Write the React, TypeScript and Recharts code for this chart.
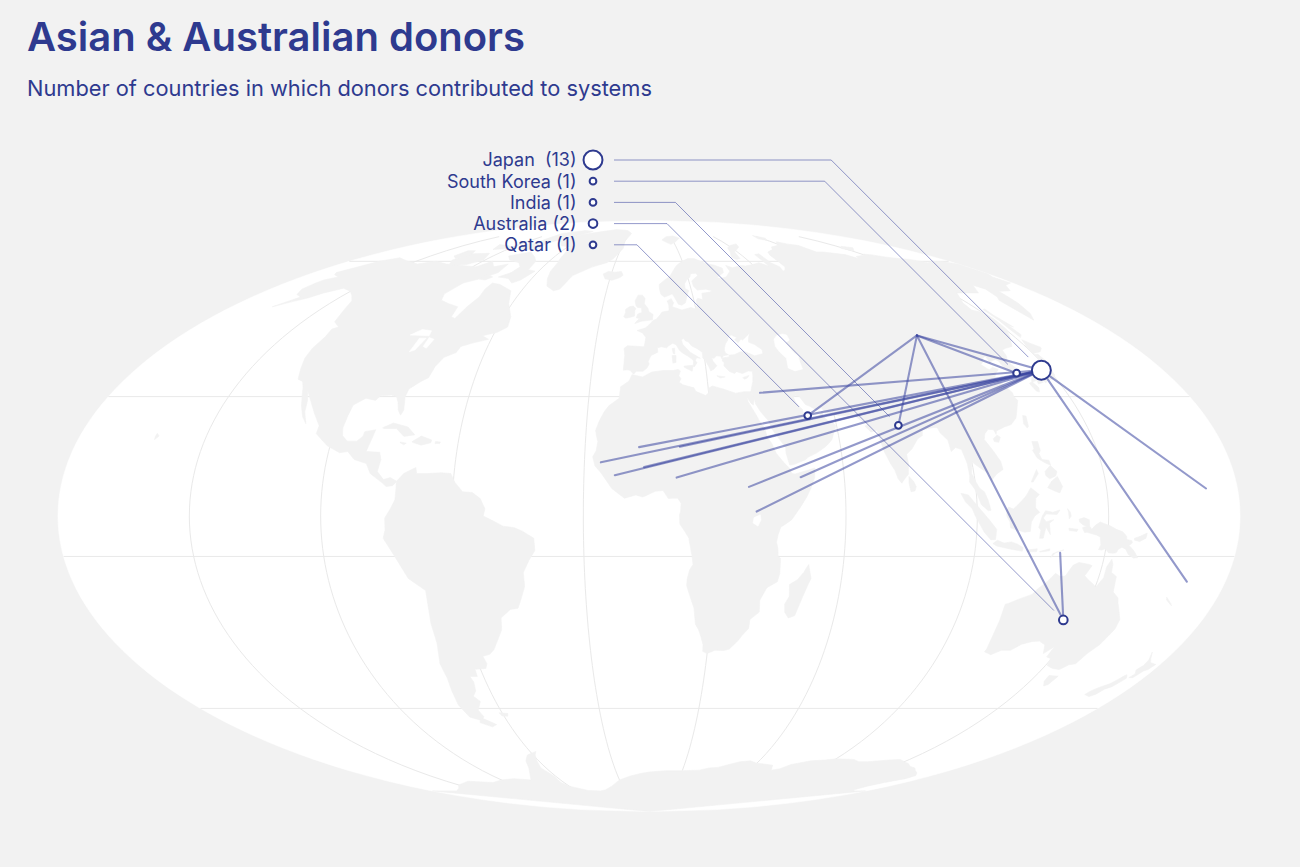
import { Scatter, ScatterChart, XAxis, YAxis } from 'recharts'

type LonLat = [number, number]

// donors, legend order
const DONORS = ['Japan', 'South Korea', 'India', 'Australia', 'Qatar']
const DONOR_LABELS = ['Japan  (13)', 'South Korea (1)', 'India (1)', 'Australia (2)', 'Qatar (1)']
const DONOR_COUNTS = [13, 1, 1, 2, 1]
const DONOR_LON = [137.4, 127.9, 79.8, 134.8, 51.4]
const DONOR_LAT = [37.0, 36.2, 22.6, -26.0, 25.1]

// countries that received contributions
const RECIPIENTS = ['Mongolia', 'Jordan', 'Mali', 'Senegal', 'Guinea', 'Burkina Faso', 'Niger', 'Nigeria', 'South Sudan', 'Uganda', 'Somalia', 'Marshall Islands', 'Vanuatu', 'Timor-Leste']
const RECIPIENT_LON = [103.1, 37.2, -3.1, -14.9, -10.5, -1.5, 9.7, 8.5, 30.6, 32.8, 46.6, 170.4, 168.0, 126.2]
const RECIPIENT_LAT = [46.6, 31.0, 17.1, 13.3, 10.1, 12.1, 17.2, 9.5, 7.2, 1.1, 9.6, 6.8, -16.3, -9.1]

const FLOW_FROM = ['Japan', 'Japan', 'Japan', 'Japan', 'Japan', 'Japan', 'Japan', 'Japan', 'Japan', 'Japan', 'Japan', 'Japan', 'Japan', 'South Korea', 'India', 'Australia', 'Australia', 'Qatar']
const FLOW_TO = ['Mongolia', 'Jordan', 'Mali', 'Senegal', 'Guinea', 'Burkina Faso', 'Niger', 'Nigeria', 'South Sudan', 'Uganda', 'Somalia', 'Marshall Islands', 'Vanuatu', 'Mongolia', 'Mongolia', 'Mongolia', 'Timor-Leste', 'Mongolia']

// graticule (40 degree steps)
const PARALLELS = [-50, -10, 30, 70]
const MERIDIANS = [-140, -100, -60, -20, 20, 60, 100, 140]

// rough coastlines [lon, lat]
const NORTH_AMERICA: LonLat[] = [[-168,66],[-162,70],[-156,71.3],[-145,70],[-135,69],[-128,70],[-118,69],[-108,68.5],[-98,68],[-94,70],[-88,68],[-82,69],[-81,66],[-86,64],[-92,62.5],[-94.5,59],[-92.5,57],[-88,56],[-82.5,55],[-81.5,52],[-79.5,51.5],[-78.5,55],[-77,58],[-78,60.5],[-77.5,62.5],[-73,62],[-69,61],[-65,60],[-61.5,56],[-57,52],[-56,49],[-59,47.5],[-64,46.5],[-61,45.5],[-66,44.5],[-70,43.5],[-70.5,41.8],[-74,40.5],[-75.5,38],[-76,35],[-78,34],[-81,32],[-81.2,30],[-80,26.5],[-80.5,25.2],[-81.8,26.5],[-82.8,28.5],[-84,30],[-86,30.4],[-89.5,30.2],[-90.5,29],[-94,29.6],[-97.2,27.8],[-97.5,25],[-97.7,22],[-97,20],[-95,18.6],[-92,18.6],[-90.5,19.8],[-90.3,21],[-87,21.5],[-87.5,19],[-88.3,16],[-84,15.8],[-83.2,14],[-83.7,11],[-81.5,9],[-79.5,9.5],[-77.4,8.6],[-78.5,7.5],[-80.5,7.3],[-81.8,8.2],[-85.8,10.5],[-87.5,13],[-91.5,14],[-94,16],[-96.5,15.7],[-101,17.5],[-105.5,20.5],[-105.5,22.5],[-108.5,25.5],[-112.5,29.5],[-114.7,31.5],[-113,29],[-112,26],[-110,23],[-112,24.8],[-114,27.5],[-115.5,30],[-117.1,32.5],[-118.5,34],[-120.6,34.6],[-122.4,37.5],[-124,40.3],[-124.5,43],[-124,46.2],[-124.7,48.4],[-123,49],[-127,50.5],[-130,54.5],[-132,56.8],[-136,58.5],[-140,59.8],[-146,60.8],[-151,59.3],[-154,57.7],[-158,56.5],[-162.5,55],[-158,58],[-162,58.8],[-165,60.5],[-165,62.5],[-164.5,63.5],[-161,64.5],[-166,65.3]]
const GREENLAND: LonLat[] = [[-73,78],[-66,81],[-55,82.2],[-40,83.5],[-25,83],[-18,81.5],[-20,78],[-18.5,75],[-22,71],[-25,69.5],[-32,68],[-40,65],[-42.5,60.5],[-45,60],[-49.5,61.5],[-52,64],[-53.5,66.5],[-54,69.5],[-55,71],[-58,75.5],[-66,76]]
const BAFFIN: LonLat[] = [[-80,73.5],[-72,71.5],[-68,70],[-66.5,67],[-62,66.5],[-65,63.5],[-68,62.5],[-72,64],[-78,64.5],[-74,66],[-73,68],[-77,69.5],[-85,70.5],[-90,72]]
const VICTORIA_IS: LonLat[] = [[-117,72.8],[-106,73],[-101,70.5],[-106,68.8],[-115,68.5],[-120,70.5]]
const ELLESMERE: LonLat[] = [[-90,81.5],[-75,83],[-63,82.5],[-70,80],[-78,78],[-82,76.5],[-90,76.5],[-90,79]]
const BANKS_IS: LonLat[] = [[-125,74],[-120,74],[-115,72],[-120,71],[-125,72]]
const DEVON_IS: LonLat[] = [[-95,77],[-80,76.5],[-80,74.5],[-92,74.5]]
const PARRY_IS: LonLat[] = [[-115,76.5],[-105,76],[-100,75],[-110,74.5]]
const SOUTHAMPTON: LonLat[] = [[-86,65.5],[-81,64.5],[-83,63.5],[-86.5,63.8]]
const CUBA: LonLat[] = [[-85,22],[-82,23.2],[-77,22.2],[-74.2,20.2],[-77.5,19.8],[-80.5,21.8],[-84.5,21.8]]
const HISPANIOLA: LonLat[] = [[-74.5,18.5],[-72,19.9],[-68.5,18.9],[-68.6,18.2],[-71.5,17.6],[-74.4,18.3]]
const JAMAICA: LonLat[] = [[-78.3,18.4],[-76.3,18.1],[-77,17.7],[-78.2,18.2]]
const PUERTO_RICO: LonLat[] = [[-67.2,18.5],[-65.6,18.4],[-65.8,18],[-67.2,18]]
const HAWAII: LonLat[] = [[-156,20.6],[-155,19.9],[-155.9,19],[-156.1,19.7]]
const SOUTH_AMERICA: LonLat[] = [[-77.5,8.5],[-75.5,10.5],[-72,12],[-71.5,10.5],[-68,10.5],[-64,10.7],[-61,10.5],[-59.5,8.3],[-57,6],[-54,5.8],[-51.5,4.3],[-50,1.8],[-50.5,0],[-48,-1],[-44.5,-2.5],[-41,-2.9],[-38.5,-3.8],[-35.2,-5.5],[-35,-8.5],[-37,-11],[-39,-14],[-39,-17.5],[-40.5,-20.5],[-42,-23],[-44.5,-23.3],[-48,-25.5],[-48.6,-28.5],[-51,-31.5],[-53,-33.8],[-54.9,-35],[-57.5,-35.5],[-57,-37.5],[-58,-38.8],[-62,-39],[-62.3,-41],[-65,-41],[-64.5,-42.5],[-65.5,-45],[-67.5,-46.5],[-66,-48],[-69,-50.5],[-68.5,-52.5],[-71,-53.5],[-74.5,-52.5],[-75.5,-49],[-74.5,-45],[-73.5,-41.5],[-73.5,-37.5],[-71.5,-32],[-71.3,-27],[-70.3,-18.5],[-75,-15.5],[-78.5,-9.5],[-81.2,-5.5],[-80.5,-3.5],[-80.5,-0.5],[-79,1.5],[-77.5,4],[-77.4,6.7]]
const TIERRA_DEL_FUEGO: LonLat[] = [[-70,-52.7],[-65.5,-54.8],[-68,-55.5],[-72,-54.2]]
const FALKLANDS: LonLat[] = [[-61.2,-51.3],[-57.8,-51.5],[-58.5,-52.3],[-60.8,-52.2]]
const EURASIA: LonLat[] = [[-9,37],[-8.8,41],[-9.2,43],[-8,43.7],[-1.8,43.4],[-1.2,46],[-2.5,47.3],[-4.7,48],[-1.5,48.7],[0,49.6],[1.6,50.9],[3,51.3],[4.5,52.5],[5.5,53.4],[8.5,53.8],[8.6,55.5],[8.1,56.8],[10,57.5],[10.8,56.2],[10,55],[12.5,54.4],[14,54],[18,54.8],[19.5,54.4],[21,55.5],[21,57],[22,57.6],[24,57.2],[24.5,59.2],[28,59.5],[29.8,60],[27,60.5],[22.8,60.2],[21.5,61.5],[21.5,63.2],[25.5,65],[25,65.8],[22,65.6],[21.2,64.5],[19,63.5],[17.5,62.2],[17.2,60.7],[18.8,60],[17.8,59],[16.5,57],[16,56.2],[14.3,55.5],[12.8,55.8],[11.5,58],[10.7,59],[9,58.5],[7,58],[5.5,58.8],[5,60.5],[5,62],[8,63.5],[11,64.8],[13,66.5],[15,68],[17,69],[20,70],[24,71],[28,71],[31,70],[33,69.3],[38,68.5],[41,67.5],[40,66],[37,65],[35,64.3],[36.5,64],[40,64.5],[44,66.5],[44,68.5],[47,67.7],[53,68.5],[55,68.3],[60,68.8],[65,69.5],[68.5,68.2],[69,72.5],[72.5,72.8],[72,69.5],[74,68],[73,66.5],[75,67],[77,68],[78.5,72.4],[80.5,73.5],[87,74.5],[90,75.5],[98,76.2],[104,77.7],[108,76.7],[113,76.2],[113.5,73.5],[118,73.5],[123,73],[128,72.5],[130,71],[132,71.8],[139,72.3],[141,72.7],[145,72.4],[150,71.5],[155,71],[160,70.7],[165,69.5],[170,70],[176,69.8],[180,69],[180,65.5],[178,64.5],[179,62.5],[174,61.8],[170,60],[164,59.8],[163,58],[162,56],[159.5,53],[156.5,51],[156,57],[158,58],[160,60.5],[158,61.8],[153,59.3],[148,59.3],[143,59.3],[138,56.2],[137,54],[140.5,53.2],[141,51.5],[140.5,48.5],[138,46],[135,43.5],[132,43],[130,42.5],[129.5,40.8],[128,39.5],[129.4,37],[129.3,35.5],[126.5,34.5],[126.3,36.8],[125,37.7],[125,39.5],[124.3,39.9],[122.3,39.4],[121.2,38.8],[121.6,39.5],[121.8,40.8],[120.5,40.4],[119,39.2],[117.7,38.5],[118.8,37.4],[119.4,37.1],[121,37.8],[122.5,37.2],[120.5,36.1],[119.2,35],[120.9,32.5],[121.8,31],[121.5,30.1],[122,29],[120,26.5],[118.5,24.5],[116,22.8],[113.5,22.2],[110.5,21.2],[110,20.3],[109.7,21.5],[108,21.6],[106.5,20.5],[105.7,19],[107.3,16.5],[109,13.5],[109.2,11.5],[107,10.4],[105,8.7],[104.8,10.3],[103,11.4],[101,12.7],[100,13.5],[99.3,10.5],[100.3,8.3],[101.2,6.8],[102.5,6],[103.4,4],[104.2,1.4],[103.4,1.3],[101.3,2.8],[100.4,5],[99.6,6.7],[98.3,8.4],[98.6,10],[98.5,13],[97.7,16.5],[96,17],[94.3,16],[94.2,18.8],[92.4,20.7],[92,22],[90.6,22],[88.9,21.8],[87,21.4],[86.5,20],[84.8,19.2],[82.2,16.6],[80.2,15.3],[80.3,13],[79.8,10.3],[78.2,8.9],[77.5,8.1],[76.5,9.2],[75.8,11.3],[74.8,12.9],[73.4,16],[72.8,19.2],[72.6,21.3],[70.5,20.9],[69,22.4],[70.2,22.9],[68.5,23.7],[67.2,24.6],[66.5,25.4],[64.5,25.2],[61.5,25.1],[58.5,25.6],[57.3,25.8],[56.4,27.1],[54.7,26.5],[52.5,27.6],[51.5,27.9],[50,30.1],[48.8,30.3],[48,29.9],[48.4,28.5],[49.3,27.4],[50.1,26.7],[50.2,25.5],[50.8,24.8],[51.3,26.1],[51.6,25],[52,23.9],[54,24.1],[55.5,25.4],[56.4,26.3],[56.3,24.9],[57.4,23.9],[58.8,23.5],[59.8,22.5],[58.5,20.5],[57.7,19],[56.3,17.9],[55.3,17.2],[52.2,15.6],[49.5,14.6],[48.7,14],[45,12.8],[43.5,12.6],[42.7,15.7],[42.8,17],[41.2,19],[40,20.5],[39.1,21.9],[38.5,23.7],[37.2,25.1],[36.4,26],[35.1,28.1],[34.95,29.4],[34.2,31.3],[34.9,32.8],[35.5,33.9],[35.9,35.4],[36.1,36.7],[34.7,36.8],[32.5,36.1],[30.6,36.6],[29.7,36.1],[28,36.7],[26.5,38.2],[26.8,39.1],[26.2,39.5],[26.5,40.3],[29,40.6],[29.1,41.1],[31,41.2],[33.5,42],[35.2,42],[38.3,40.9],[41.5,41.5],[41.7,42.6],[39.5,44],[37.5,44.7],[38.2,46.3],[39.1,47.3],[35.5,45.3],[35,45.6],[33.5,44.5],[32.5,45.4],[33.6,46],[31.7,46.7],[30.7,46.5],[30,45.5],[29.6,45],[28.7,44.3],[28,43.2],[27.7,42.3],[28,41.6],[28.9,41.2],[27,40.95],[26.2,40.1],[26,40.8],[24.5,40.9],[23.4,40.2],[22.6,40.3],[22.9,39.4],[24,38.2],[22.8,37.3],[21.6,36.8],[21.1,38],[20.2,39.6],[19.4,40.3],[19.5,41.8],[18.5,42.5],[17.5,43],[15.9,43.6],[14.9,44.7],[13.7,45.1],[13.1,45.7],[12.3,45.4],[12.6,44.1],[13.9,42.9],[15.1,41.9],[16.1,41.4],[18.5,40.2],[17.2,40.4],[16.6,39.6],[17.1,39],[16.1,38],[15.6,38],[15.8,38.8],[16,39.5],[15.4,40],[14.1,40.8],[12.4,41.6],[11.2,42.4],[10.2,43.9],[8.9,44.4],[7.4,43.7],[6.5,43.1],[4.6,43.4],[3.1,43.1],[3.2,41.9],[0.8,41],[0.1,40],[-0.3,39.3],[0.1,38.7],[-0.7,37.6],[-2.1,36.7],[-4.4,36.7],[-5.4,35.9],[-6.5,36.9],[-7.5,37.1]]
const AFRICA: LonLat[] = [[34.2,31.3],[34.9,29.5],[34.3,27.8],[33.6,28.3],[32.6,29.9],[32.7,28.8],[33.6,27.2],[34.6,25.5],[35.6,23.6],[36.9,22],[37.4,19.5],[38.6,18],[39.7,15.5],[41.7,13.3],[43.3,11.9],[44,10.5],[45,10.4],[48.9,11.3],[51.2,11.9],[51,10.4],[50.9,9.5],[49.5,6.8],[48,4.5],[46,2],[43.5,-0.9],[41.8,-1.9],[40.2,-2.7],[39.4,-4.6],[39,-6.5],[39.5,-8],[39.7,-10],[40.5,-10.5],[40.6,-14.2],[40.1,-16.3],[37,-17.8],[35.2,-21],[35.5,-24],[32.8,-25.9],[32.8,-28.2],[31,-30],[30,-31.3],[27.4,-33.6],[25.5,-34],[22.5,-33.9],[20,-34.8],[18.4,-34.2],[18.3,-32.5],[17.3,-30.3],[16.4,-28.6],[15.2,-27.1],[14.4,-22.9],[13.4,-20.9],[11.8,-17.3],[11.9,-15.6],[12.6,-13.3],[13.6,-12],[13.2,-9.8],[12.3,-6.1],[12.2,-5.5],[11,-3.9],[9.4,-2],[9.3,0.3],[9.6,1],[9.8,3.1],[8.8,4.4],[7.2,4.4],[5.9,4.3],[4.3,6.3],[1.9,6.1],[-1,5],[-2,4.7],[-4,5.2],[-7.5,4.4],[-9.3,5.5],[-11.4,6.8],[-13.2,8.9],[-15,10.9],[-16.7,12.4],[-17.5,14.7],[-16.5,16.2],[-16.1,18.5],[-16.5,19.6],[-17,21.3],[-16,23.7],[-14.5,26.2],[-13.2,27.6],[-9.9,29.6],[-9.6,32.6],[-6.8,34.1],[-5.9,35.8],[-2.2,35.2],[1,36.5],[4.8,36.9],[8.4,36.9],[10.2,37.2],[11,36.8],[10.3,35.5],[11,34.7],[10.3,33.8],[11.5,33.1],[15.2,32.3],[15.7,31.4],[18.9,30.3],[20,31],[20,32.1],[21.5,32.8],[25,32],[29,30.9],[32,31.3]]
const MADAGASCAR: LonLat[] = [[49.3,-12],[50.5,-15.5],[49.8,-17],[48.5,-20.5],[47.1,-24.9],[45.2,-25.5],[43.7,-24],[43.3,-22],[44.4,-20],[44,-17],[46.3,-15.8],[48,-14]]
const GREAT_BRITAIN: LonLat[] = [[-5.7,50],[-3,50.7],[1.4,51.1],[1.7,52.7],[0,53.5],[-0.4,54.5],[-2,55.9],[-1.8,57.6],[-3,58.6],[-5,58.6],[-6.2,56.8],[-5.6,55.3],[-4.9,54.8],[-3.2,54.7],[-3,53.3],[-4.7,52.8],[-5.2,51.7],[-3.6,51.4],[-4.5,51.1]]
const IRELAND: LonLat[] = [[-6,52.2],[-6,53.9],[-5.6,54.5],[-6.8,55.2],[-8.5,55],[-10,54.2],[-9.8,53.3],[-10.4,52],[-9.5,51.6],[-8,51.8]]
const ICELAND: LonLat[] = [[-22.5,63.9],[-24.3,65.5],[-22,66.4],[-18.5,66.1],[-15,66.4],[-13.6,65.1],[-15,64.3],[-18.7,63.4]]
const SVALBARD: LonLat[] = [[11,78.5],[16,80],[23,80.3],[27,79.3],[22,77.8],[17,76.6],[14,77.5]]
const NOVAYA_ZEMLYA: LonLat[] = [[52,71.5],[55,73.5],[57,75.2],[62,76.2],[68,76.8],[66,75.5],[58,73.5],[56.5,71],[53.5,70.7]]
const SEVERNAYA_ZEMLYA: LonLat[] = [[96,79],[100,80.5],[104,79.3],[100,78.3]]
const NEW_SIBERIAN_IS: LonLat[] = [[138,75],[143,75.8],[148,75.2],[141,73.9]]
const SICILY: LonLat[] = [[12.4,38.1],[15.6,38.3],[15.1,36.7],[12.4,37.8]]
const SARDINIA: LonLat[] = [[8.4,41],[9.8,41],[9.6,39.1],[8.5,38.9]]
const CORSICA: LonLat[] = [[8.6,42.9],[9.5,43],[9.4,41.4],[8.8,41.6]]
const CRETE: LonLat[] = [[23.5,35.5],[26.3,35.2],[24.5,34.9]]
const CYPRUS: LonLat[] = [[32.3,35],[34.6,35.6],[33.9,34.9],[32.9,34.6]]
const SRI_LANKA: LonLat[] = [[79.9,9.8],[81.2,8.5],[81.8,7.2],[81.3,6.2],[80.1,6],[79.7,8]]
const HONSHU: LonLat[] = [[130.9,34],[132.5,35.5],[135,35.7],[136,36.3],[137,37],[138.5,37.8],[139.8,38.8],[140,40.5],[140.3,41.3],[141.5,41.3],[142,39.6],[141,38.3],[140.9,36.8],[140.6,35.7],[139.8,35.1],[138.8,34.6],[137,34.6],[135.4,33.6],[135,34.5],[133,34.3],[131.2,33.9]]
const KYUSHU: LonLat[] = [[129.7,33.5],[131,33.9],[131.8,32.3],[131,31.2],[130.2,31.5],[129.8,32.8]]
const SHIKOKU: LonLat[] = [[132.6,33.3],[134.7,33.8],[134.3,34.3],[132.9,34.1]]
const HOKKAIDO: LonLat[] = [[140,41.5],[140.2,43.2],[141.5,45.4],[143,44.4],[145.3,43.3],[145,42.9],[143.3,42],[141,41.7]]
const SAKHALIN: LonLat[] = [[142,46],[143.5,46.8],[143.2,49.5],[144.4,49],[143,52.5],[143.2,54.3],[142.2,54.2],[142.2,51],[141.8,48.5]]
const TAIWAN: LonLat[] = [[120.1,23],[121,25.1],[122,25],[121.3,22.4],[120.7,21.9]]
const HAINAN: LonLat[] = [[108.6,19.2],[110.2,20.1],[111,19.6],[110,18.3],[108.7,18.5]]
const LUZON: LonLat[] = [[120.5,18.5],[122.3,18.5],[122.2,16.2],[121.5,15.5],[121.9,14],[124,13.8],[124.2,12.6],[123,13],[121.5,13.8],[120.6,14.4],[119.8,16.3],[120.4,16.7]]
const VISAYAS: LonLat[] = [[122,11],[124,12.5],[125.7,11],[125,9.9],[123,9.2],[122,10]]
const MINDANAO: LonLat[] = [[122,7],[123.5,8.6],[125.5,9.8],[126.6,7.3],[125.5,5.7],[124,6.2]]
const PALAWAN: LonLat[] = [[117.2,8.4],[119.5,11.5],[119.8,10.5],[117.8,8.4]]
const BORNEO: LonLat[] = [[109,1.5],[109.6,2.2],[111,1.7],[113,3.2],[114.6,4.5],[115.5,5.4],[116.8,7],[119.2,5.3],[118,4.4],[117.8,2],[119,0.9],[117.5,0],[116.5,-1.5],[116.3,-3.8],[114.6,-4],[111.8,-3.4],[110.2,-2.9],[110,-1.5],[109,0]]
const SUMATRA: LonLat[] = [[95.3,5.6],[97.5,5.2],[100.3,2.3],[103.7,-1],[106,-3.3],[105.9,-5.8],[104.5,-5.9],[102.3,-4],[100.8,-2],[99.3,0.2],[98.5,1.8],[96.5,3.5]]
const JAVA: LonLat[] = [[105.2,-6.8],[106.5,-6],[108.6,-6.7],[110.8,-6.4],[112.6,-6.9],[114.6,-7.8],[114.5,-8.7],[111,-8.2],[108.5,-7.8],[106.4,-7.4]]
const SULAWESI: LonLat[] = [[119.3,-5.5],[119.5,-3.5],[118.8,-2.8],[119.8,0],[120.8,1.3],[123,0.9],[125.2,1.5],[124.3,0.4],[121,0.5],[120.1,-0.5],[121,-1.4],[123.3,-0.9],[122,-1.8],[122.5,-4.6],[121,-2.7],[120.4,-5.5]]
const LOMBOK_SUMBAWA: LonLat[] = [[115.9,-8.4],[119,-8.1],[118.9,-8.8],[116,-8.9]]
const FLORES: LonLat[] = [[119.8,-8.8],[122.8,-8.1],[122.9,-8.6],[120,-8.9]]
const TIMOR: LonLat[] = [[124,-9.3],[127.2,-8.4],[125,-8.9],[123.6,-10.3]]
const SERAM: LonLat[] = [[128,-3],[130.8,-3.3],[130.5,-3.8],[128.2,-3.6]]
const HALMAHERA: LonLat[] = [[127.5,1.8],[128.3,1],[128.6,0],[128,-0.7],[127.8,1]]
const NEW_GUINEA: LonLat[] = [[131,-0.8],[132.5,-0.4],[134.1,-0.9],[134.3,-2.5],[135,-3.3],[136,-2.3],[137.5,-1.5],[138.8,-1.9],[140.5,-2.4],[142.5,-3.3],[144.5,-3.9],[145.8,-5],[146,-5.8],[147.6,-6.1],[147.8,-6.7],[146.9,-7.3],[148.1,-8.1],[149.2,-9.1],[150.3,-10.3],[149,-10.4],[147.2,-9.5],[146.1,-8.2],[144.8,-7.7],[143.8,-8.3],[143.4,-9.1],[142.4,-9.2],[141,-9.1],[139.9,-8.1],[138.7,-8.4],[137.8,-8.3],[138.3,-7.2],[137.8,-5.2],[136.6,-4.7],[135.2,-4.4],[133.6,-4],[132.9,-4.1],[132.1,-2.9],[133.4,-2.5],[132.3,-2.2],[131.2,-1.5]]
const NEW_BRITAIN: LonLat[] = [[148.3,-5.5],[150,-5],[152,-4.2],[151.8,-5.5],[150,-6.3],[148.4,-6]]
const NEW_CALEDONIA: LonLat[] = [[164,-20.2],[166.5,-21.9],[167,-22.4],[164.4,-20.9]]
const AUSTRALIA: LonLat[] = [[113.7,-22],[114.2,-26.3],[115.2,-33.6],[115,-34.3],[117.9,-35.1],[120.5,-33.9],[123.6,-33.9],[126,-32.3],[129,-31.6],[131.3,-31.5],[134,-32.5],[135.7,-34.8],[137.7,-33],[137.8,-35.7],[139.6,-36.1],[140.6,-38],[143.5,-38.8],[146.3,-39.1],[148,-37.8],[150,-37.5],[150.8,-34.8],[152.5,-32.4],[153.6,-28.4],[153.1,-25.9],[151,-23.5],[149.4,-21.6],[148.7,-20.4],[146.3,-18.9],[145.4,-15],[143.5,-14],[143.2,-11.9],[142.5,-10.7],[141.5,-12.6],[141.6,-15.3],[140.2,-17.7],[139,-16.9],[137,-15.8],[135.5,-14.8],[136.9,-12.3],[136,-12],[132.6,-11.5],[131,-12.2],[129.5,-14.9],[128,-15],[126.2,-14.2],[124.4,-16.3],[122.2,-18.1],[121,-19.5],[117.4,-20.7],[114.6,-21.8]]
const TASMANIA: LonLat[] = [[144.7,-40.7],[148.3,-40.9],[148,-43.2],[146.9,-43.6],[145.2,-42.3]]
const NZ_NORTH: LonLat[] = [[172.7,-34.4],[174.6,-36.2],[175.9,-37.2],[177.9,-37.6],[178.5,-37.7],[177.9,-39.1],[176.9,-39.5],[176,-41.3],[174.6,-41.3],[175.2,-40.3],[173.8,-39.2],[174.6,-38],[174.3,-36.5]]
const NZ_SOUTH: LonLat[] = [[172.6,-40.5],[174,-41.5],[173.3,-42.8],[172.7,-43.8],[171.2,-44.5],[170.6,-45.9],[169.3,-46.6],[166.5,-46],[167,-45],[168.3,-44],[170.5,-43],[171.5,-41.8],[172.1,-40.8]]
const ANTARCTICA: LonLat[] = [[-180,-90],[-180,-78],[-160,-78],[-150,-77],[-140,-75.5],[-125,-74],[-110,-74.5],[-100,-73.5],[-90,-73],[-80,-73.5],[-75,-71.5],[-70,-69],[-67,-66.5],[-63,-64.5],[-57,-63.3],[-59,-64.5],[-61,-66.5],[-63,-69],[-61,-72],[-62,-74.5],[-60,-76],[-50,-77.8],[-40,-78],[-35,-77.5],[-28,-76],[-20,-73.5],[-12,-72],[-5,-71],[0,-70.5],[10,-70],[20,-70],[30,-69.8],[35,-69],[40,-68.8],[45,-67.8],[50,-66.8],[55,-66.5],[60,-67.3],[70,-68],[73,-69.8],[77,-69.3],[80,-67.8],[88,-66.5],[95,-66.2],[100,-65.8],[110,-66],[115,-66.8],[120,-66.8],[130,-66.2],[135,-66],[140,-66.8],[145,-67.5],[150,-68.5],[155,-69],[160,-70],[165,-70.8],[170,-71.8],[170.5,-73],[166,-74.5],[164,-76],[166,-77.5],[170,-78],[180,-78],[180,-90]]

// inland water
const CASPIAN: LonLat[] = [[49,46.5],[51.5,47],[53,46.7],[53.2,45.3],[51.3,44.5],[52.7,42],[54,40.8],[53.8,39],[53.9,37.3],[51,36.8],[49,37.6],[49.5,40.2],[47.8,42],[47,43.5],[47.5,45.5]]
const LAKE_SUPERIOR: LonLat[] = [[-92,46.7],[-84.5,46.5],[-85,47.9],[-89,48.3]]
const LAKE_MICHIGAN: LonLat[] = [[-87.8,42],[-86.2,42.5],[-85,45.8],[-87.5,45.8]]
const LAKE_HURON: LonLat[] = [[-84,43.5],[-82.4,43],[-81.7,45.5],[-84,46]]
const LAKE_VICTORIA: LonLat[] = [[32,-0.4],[33.9,0.3],[34.1,-1],[33.2,-2.5],[31.7,-1.7]]

const LAND = [NORTH_AMERICA, GREENLAND, BAFFIN, VICTORIA_IS, ELLESMERE, BANKS_IS, DEVON_IS, PARRY_IS, SOUTHAMPTON, CUBA, HISPANIOLA, JAMAICA, PUERTO_RICO, HAWAII, SOUTH_AMERICA, TIERRA_DEL_FUEGO, FALKLANDS, EURASIA, AFRICA, MADAGASCAR, GREAT_BRITAIN, IRELAND, ICELAND, SVALBARD, NOVAYA_ZEMLYA, SEVERNAYA_ZEMLYA, NEW_SIBERIAN_IS, SICILY, SARDINIA, CORSICA, CRETE, CYPRUS, SRI_LANKA, HONSHU, KYUSHU, SHIKOKU, HOKKAIDO, SAKHALIN, TAIWAN, HAINAN, LUZON, VISAYAS, MINDANAO, PALAWAN, BORNEO, SUMATRA, JAVA, SULAWESI, LOMBOK_SUMBAWA, FLORES, TIMOR, SERAM, HALMAHERA, NEW_GUINEA, NEW_BRITAIN, NEW_CALEDONIA, AUSTRALIA, TASMANIA, NZ_NORTH, NZ_SOUTH, ANTARCTICA]
const WATER = [CASPIAN, LAKE_SUPERIOR, LAKE_MICHIGAN, LAKE_HURON, LAKE_VICTORIA]

// ---- layout ----
const W = 1300
const H = 867
const MAP_CX = 649
const MAP_CY = 516
const MAP_SCALE = 208.95
const X_DOMAIN = [-MAP_CX / MAP_SCALE, (W - MAP_CX) / MAP_SCALE]
const Y_DOMAIN = [-(H - MAP_CY) / MAP_SCALE, MAP_CY / MAP_SCALE]

const INK = '#2e3a8f'
const FLOW = '#3a46a0'
const LAND_FILL = '#f2f2f2'
const GRID = '#e9e9e9'
const LEGEND_Y0 = 160
const LEGEND_ROW = 21.2
const LEGEND_TEXT_X = 576.5
const LEGEND_DOT_X = 593
const LEADER_X0 = 614

// Mollweide projection, unit sphere
function project(lon: number, lat: number) {
  const phi = (lat * Math.PI) / 180
  const lam = (lon * Math.PI) / 180
  let t = phi
  if (Math.abs(lat) < 89.999) {
    let a = 2 * phi
    for (let i = 0; i < 40; i++) {
      const d = (a + Math.sin(a) - Math.PI * Math.sin(phi)) / (1 + Math.cos(a))
      a -= d
      if (Math.abs(d) < 1e-10) break
    }
    t = a / 2
  }
  return { x: ((2 * Math.SQRT2) / Math.PI) * lam * Math.cos(t), y: Math.SQRT2 * Math.sin(t) }
}

const toPoints = (ring: LonLat[]) => ring.map(([lon, lat]) => project(lon, lat))

const sphere: LonLat[] = []
for (let lat = -90; lat <= 90; lat += 2) sphere.push([180, lat])
for (let lat = 90; lat >= -90; lat -= 2) sphere.push([-180, lat])

const graticule: LonLat[][] = [
  ...PARALLELS.map((lat) => [[-180, lat], [180, lat]] as LonLat[]),
  ...MERIDIANS.map((lon) => {
    const line: LonLat[] = []
    for (let lat = -80; lat <= 80; lat += 2) line.push([lon, lat])
    return line
  }),
]

const radius = (n: number) => 1 + 2.35 * Math.sqrt(n)

const donorData = DONORS.map((name, i) => ({
  ...project(DONOR_LON[i], DONOR_LAT[i]),
  name,
  label: DONOR_LABELS[i],
  count: DONOR_COUNTS[i],
  index: i,
}))

const flowData = FLOW_FROM.flatMap((from, i) => {
  const d = DONORS.indexOf(from)
  const r = RECIPIENTS.indexOf(FLOW_TO[i])
  return [project(DONOR_LON[d], DONOR_LAT[d]), project(RECIPIENT_LON[r], RECIPIENT_LAT[r])]
})

const NoDot = () => <g />

const ringPath = (pts: { x: number; y: number }[], close: boolean) =>
  pts.map((p, i) => `${i ? 'L' : 'M'}${p.x.toFixed(2)},${p.y.toFixed(2)}`).join('') + (close ? 'Z' : '')

const filledRing = (fill: string) => (props: any) => (
  <path d={ringPath(props.points, true)} fill={fill} stroke={fill} strokeWidth={0.6} strokeLinejoin="round" />
)

const gridLine = (props: any) => <path d={ringPath(props.points, false)} fill="none" stroke={GRID} strokeWidth={1} />

const flowLines = (props: any) => {
  const pts = props.points as { x: number; y: number }[]
  const segs = []
  for (let i = 0; i + 1 < pts.length; i += 2) {
    segs.push(
      <line key={i} x1={pts[i].x} y1={pts[i].y} x2={pts[i + 1].x} y2={pts[i + 1].y} stroke={FLOW} strokeOpacity={0.55} strokeWidth={2.1} strokeLinecap="round" />
    )
  }
  return <g>{segs}</g>
}

function LegendEntry(props: any) {
  const { cx, cy, payload } = props
  const rowY = LEGEND_Y0 + payload.index * LEGEND_ROW
  const r = radius(payload.count)
  const kinkX = cx - (cy - rowY)
  const off = (r + 9) / Math.SQRT2
  return (
    <g>
      <polyline points={`${LEADER_X0},${rowY} ${kinkX},${rowY} ${cx - off},${cy - off}`} fill="none" stroke={FLOW} strokeOpacity={0.55} strokeWidth={1} />
      <circle cx={LEGEND_DOT_X} cy={rowY} r={r} fill="#fff" stroke={INK} strokeWidth={2} />
      <text x={LEGEND_TEXT_X} y={rowY + 6.3} textAnchor="end" fill={INK} fontSize={18} style={{ whiteSpace: 'pre', fontFamily: 'Inter, sans-serif' }}>
        {payload.label}
      </text>
    </g>
  )
}

function DonorDot(props: any) {
  const { cx, cy, payload } = props
  return <circle cx={cx} cy={cy} r={radius(payload.count)} fill="#fff" stroke={INK} strokeWidth={2} />
}

export default function App() {
  return (
    <div style={{ position: 'absolute', left: 0, top: 0, width: W, height: H, background: '#f2f2f2', overflow: 'hidden', fontFamily: 'Inter, sans-serif', color: INK }}>
      <div style={{ position: 'absolute', left: 27, top: 17.4, fontSize: 40, lineHeight: '40px', fontWeight: 600, whiteSpace: 'nowrap' }}>
        Asian &amp; Australian donors
      </div>
      <div style={{ position: 'absolute', left: 27, top: 78, fontSize: 21.8, lineHeight: '21.8px', whiteSpace: 'nowrap' }}>
        Number of countries in which donors contributed to systems
      </div>
      <div style={{ position: 'absolute', left: 0, top: 0 }}>
        <ScatterChart width={W} height={H} margin={{ top: 0, right: 0, bottom: 0, left: 0 }}>
          <XAxis type="number" dataKey="x" domain={X_DOMAIN} hide allowDataOverflow />
          <YAxis type="number" dataKey="y" domain={Y_DOMAIN} hide allowDataOverflow />
          <Scatter data={toPoints(sphere)} line={filledRing('#ffffff')} shape={NoDot} isAnimationActive={false} />
          {graticule.map((g, i) => (
            <Scatter key={`g${i}`} data={toPoints(g)} line={gridLine} shape={NoDot} isAnimationActive={false} />
          ))}
          {LAND.map((ring, i) => (
            <Scatter key={`l${i}`} data={toPoints(ring)} line={filledRing(LAND_FILL)} shape={NoDot} isAnimationActive={false} />
          ))}
          {WATER.map((ring, i) => (
            <Scatter key={`w${i}`} data={toPoints(ring)} line={filledRing('#ffffff')} shape={NoDot} isAnimationActive={false} />
          ))}
          <Scatter data={donorData} shape={LegendEntry} isAnimationActive={false} />
          <Scatter data={flowData} line={flowLines} shape={NoDot} isAnimationActive={false} />
          <Scatter data={donorData} shape={DonorDot} isAnimationActive={false} />
        </ScatterChart>
      </div>
    </div>
  )
}
